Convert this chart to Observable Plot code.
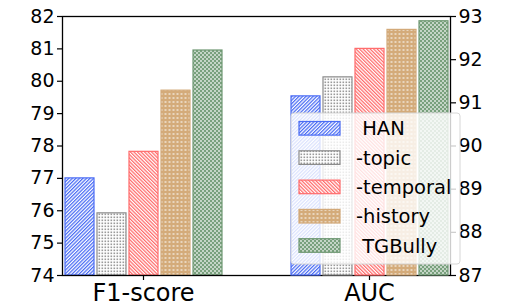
<!DOCTYPE html>
<html>
<head>
<meta charset="utf-8">
<script src="https://cdn.jsdelivr.net/npm/d3@7"></script>
<script src="https://cdn.jsdelivr.net/npm/@observablehq/plot@0.6"></script>
<style>
  html, body { margin: 0; padding: 0; background: #fff; }
  #wrap { position: relative; width: 505px; height: 302px; overflow: hidden; font-family: "DejaVu Sans", sans-serif; }
  #wrap > svg, #wrap > div { position: absolute; left: 0; top: 0; }
</style>
</head>
<body>
<div id="wrap"></div>
<script>
// ---- data ----
const groups = ["F1-score", "AUC"];
const series = ["HAN", "-topic", "-temporal", "-history", "TGBully"];
const legendLabels = [" HAN", "-topic", "-temporal", "-history", " TGBully"];
const f1Values = [77.0, 75.92, 77.82, 79.71, 80.95];
const aucValues = [91.15, 91.59, 92.25, 92.69, 92.89];
const f1Ticks = [74, 75, 76, 77, 78, 79, 80, 81, 82];
const aucTicks = [87, 88, 89, 90, 91, 92, 93];

// ---- styles ----
const edgeColors = ["#4a6cf4", "#8c8c8c", "#ff6b6b", "#d3a978", "#6f9873"];
const patIds = series.map((s, i) => `pat${i}`);

const f1Data = series.map((s, i) => ({group: "F1-score", series: s, value: f1Values[i]}));
const aucData = series.map((s, i) => ({group: "AUC", series: s, value: aucValues[i]}));

const wrap = d3.select("#wrap");

// pattern definitions
const defsSvg = wrap.append("svg").attr("width", 0).attr("height", 0);
const defs = defsSvg.append("defs");
function diag(id, color, angle) {
  const p = defs.append("pattern").attr("id", id).attr("patternUnits", "userSpaceOnUse")
    .attr("width", 2.5).attr("height", 2.5).attr("patternTransform", `rotate(${angle})`);
  p.append("rect").attr("width", 2.5).attr("height", 2.5).attr("fill", "#fff");
  p.append("rect").attr("width", 1.25).attr("height", 2.5).attr("fill", color);
}
diag("pat0", edgeColors[0], 45);
{
  const p = defs.append("pattern").attr("id", "pat1").attr("patternUnits", "userSpaceOnUse")
    .attr("width", 3).attr("height", 3);
  p.append("rect").attr("width", 3).attr("height", 3).attr("fill", "#fff");
  p.append("rect").attr("x", 0.5).attr("y", 0.5).attr("width", 1.6).attr("height", 1.6).attr("fill", "#9a9a9a");
}
diag("pat2", edgeColors[2], -45);
{
  const p = defs.append("pattern").attr("id", "pat3").attr("patternUnits", "userSpaceOnUse")
    .attr("width", 4).attr("height", 4);
  p.append("rect").attr("width", 4).attr("height", 4).attr("fill", "#d4ab7a");
  p.append("rect").attr("x", 0.5).attr("y", 1.5).attr("width", 2).attr("height", 1).attr("fill", "#fff");
}
{
  const p = defs.append("pattern").attr("id", "pat4").attr("patternUnits", "userSpaceOnUse")
    .attr("width", 4).attr("height", 4);
  p.append("rect").attr("width", 4).attr("height", 4).attr("fill", "#78a07c");
  p.append("rect").attr("x", 0.25).attr("y", 0.25).attr("width", 1.5).attr("height", 1.5).attr("fill", "#fff");
  p.append("rect").attr("x", 2.25).attr("y", 2.25).attr("width", 1.5).attr("height", 1.5).attr("fill", "#fff");
}

const common = {
  width: 505, height: 302,
  marginLeft: 42, marginRight: 34, marginTop: 16, marginBottom: 27,
  fx: {domain: groups, paddingInner: 0.281, paddingOuter: 0.0865, label: null},
  x: {domain: series, paddingInner: 0.1, paddingOuter: 0.02, axis: null},
  style: {fontFamily: "DejaVu Sans, sans-serif", background: "transparent", overflow: "visible", color: "#000"}
};

function bars(data, y0) {
  return series.map((s, i) => Plot.barY(data.filter(d => d.series === s), {
    fx: "group", x: "series", y1: y0, y2: "value",
    fill: `url(#${patIds[i]})`, stroke: edgeColors[i], strokeWidth: 1.2
  }));
}

const p1 = Plot.plot({
  ...common,
  y: {domain: [74, 82], label: null},
  marks: [
    ...bars(f1Data, 74),
    Plot.axisY({anchor: "left", ticks: f1Ticks, tickFormat: d => String(d), tickSize: 5, tickPadding: 3, fontSize: 19, label: null, strokeWidth: 1.2}),
    Plot.axisFx({anchor: "bottom", fontSize: 24, tickSize: 5, tickPadding: 3, label: null, strokeWidth: 1.2}),
    Plot.frame({facet: "super", stroke: "#000", strokeWidth: 1.3})
  ]
});
wrap.node().appendChild(p1);

const p2 = Plot.plot({
  ...common,
  fx: {...common.fx, axis: null},
  y: {domain: [87, 93], label: null},
  marks: [
    ...bars(aucData, 87),
    Plot.axisY({anchor: "right", ticks: aucTicks, tickFormat: d => String(d), tickSize: 5, tickPadding: 3, fontSize: 19, label: null, strokeWidth: 1.2})
  ]
});
wrap.node().appendChild(p2);

// legend
const lg = wrap.append("svg").attr("width", 505).attr("height", 302)
  .style("font-family", "DejaVu Sans, sans-serif");
lg.append("rect").attr("x", 291).attr("y", 113).attr("width", 169).attr("height", 151)
  .attr("rx", 3).attr("fill", "#fff").attr("fill-opacity", 0.8).attr("stroke", "#d6d6d6").attr("stroke-width", 1);
series.forEach((s, i) => {
  const cy = 128.3 + i * 29.3;
  lg.append("rect").attr("x", 299).attr("y", cy - 6.8).attr("width", 41).attr("height", 13.6)
    .attr("fill", `url(#${patIds[i]})`).attr("stroke", edgeColors[i]).attr("stroke-width", 1.2);
  lg.append("text").attr("x", 356).attr("y", cy).attr("dy", "0.36em")
    .attr("font-size", 19.5).style("white-space", "pre").attr("fill", "#000").text(legendLabels[i]);
});
</script>
</body>
</html>
